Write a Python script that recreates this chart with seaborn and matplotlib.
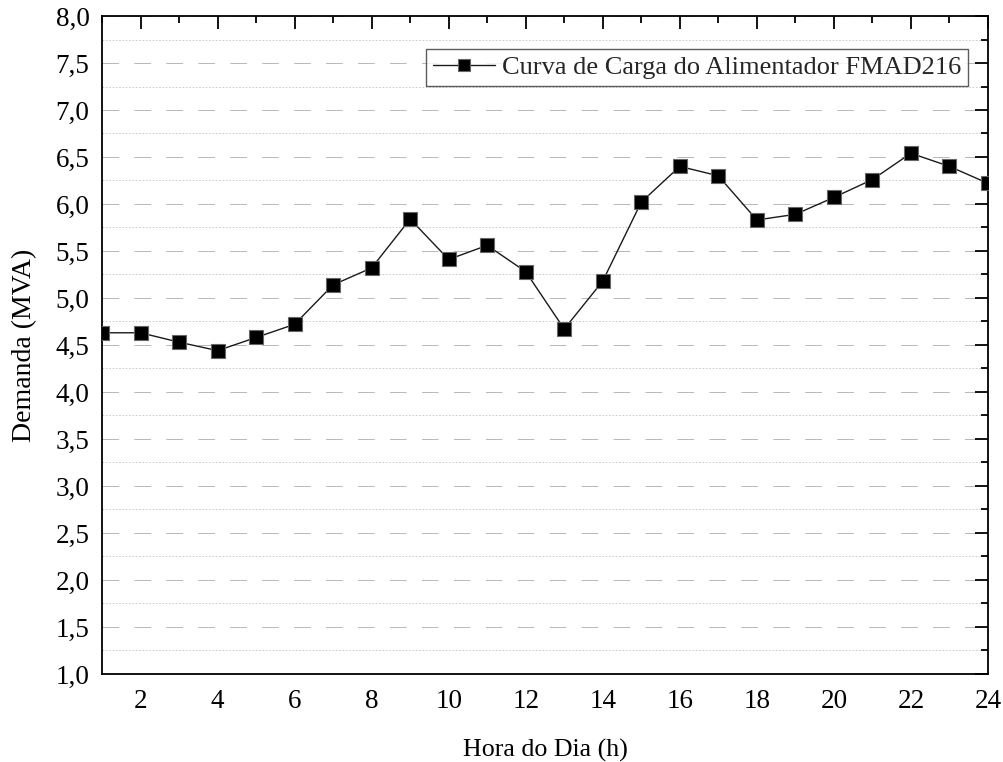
import matplotlib
matplotlib.use("Agg")
import matplotlib.pyplot as plt
from matplotlib.ticker import MultipleLocator, FuncFormatter
import seaborn as sns
import pandas as pd

# Hourly demand of feeder FMAD216 (MVA)
horas = list(range(1, 25))
demanda = [4.63, 4.63, 4.53, 4.44, 4.58, 4.72, 5.14, 5.32, 5.84, 5.41, 5.56, 5.28,
           4.67, 5.18, 6.02, 6.40, 6.30, 5.83, 5.89, 6.07, 6.26, 6.54, 6.40, 6.22]
serie = "Curva de Carga do Alimentador FMAD216"

df = pd.DataFrame({"Hora": horas, "Demanda": demanda})

sns.set_theme(style="white")
plt.rcParams["font.family"] = ["Liberation Serif", "DejaVu Serif"]
plt.rcParams["lines.scale_dashes"] = False

fig = plt.figure(figsize=(10.04, 7.62), dpi=100)
ax = fig.add_axes([0.1016, 0.1155, 0.8824, 0.8635])

sns.lineplot(data=df, x="Hora", y="Demanda", ax=ax, color="#1a1a1a", linewidth=1.0,
             marker="s", markersize=10, markerfacecolor="black",
             markeredgecolor="#666666", markeredgewidth=0.8, label=serie, zorder=3)

ax.set_xlim(1, 24)
ax.set_ylim(1.0, 8.0)
ax.xaxis.set_major_locator(MultipleLocator(2))
ax.xaxis.set_minor_locator(MultipleLocator(1))
ax.yaxis.set_major_locator(MultipleLocator(0.5))
ax.yaxis.set_minor_locator(MultipleLocator(0.25))
ax.yaxis.set_major_formatter(FuncFormatter(lambda v, p: f"{v:.1f}".replace(".", ",")))

ax.tick_params(which="both", direction="in", top=True, right=True, color="black",
               width=1.3, labelsize=19.5, labelcolor="black")
ax.tick_params(which="major", length=9.5)
ax.tick_params(which="minor", length=5)
ax.tick_params(axis="x", which="major", pad=11)
ax.tick_params(axis="y", which="major", pad=9)

ax.grid(False)
ax.yaxis.grid(True, which="major", color="#b8b8b8", linewidth=0.7,
              linestyle=(0, (12, 11)))
ax.yaxis.grid(True, which="minor", color="#cccccc", linewidth=0.7,
              linestyle=(0, (1.2, 1.2)))
ax.set_axisbelow(True)

for s in ax.spines.values():
    s.set_color("black")
    s.set_linewidth(1.3)

ax.set_xlabel("Hora do Dia (h)", fontsize=18.7, color="black", labelpad=18)
ax.set_ylabel("Demanda (MVA)", fontsize=20, color="black", labelpad=13)

leg = ax.legend(loc="upper right", bbox_to_anchor=(0.977, 0.950), fontsize=19,
                frameon=True, fancybox=False, edgecolor="#333333", handlelength=2.35,
                borderpad=0.25, handletextpad=0.27, borderaxespad=0, markerscale=0.9)
leg.get_frame().set_linewidth(1.0)

fig.savefig("out.png", dpi=100, facecolor="white")
